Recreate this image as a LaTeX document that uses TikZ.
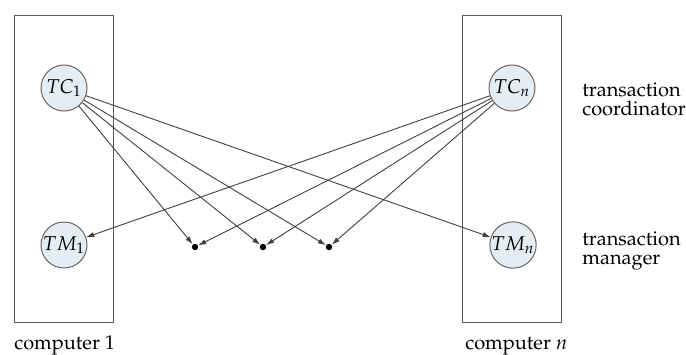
\documentclass[tikz,border=0pt]{standalone}
\usepackage[T1]{fontenc}
\usepackage{mathpazo}
\usetikzlibrary{arrows.meta,positioning}
\usepackage{xcolor}

\definecolor{procfill}{RGB}{228,238,242}

\tikzstyle{arrow} = [
    -{Latex[length=4pt,width=2.6pt]},
    line width=0.45pt,
    draw=black!75
]
\tikzstyle{computer} = [rectangle, draw=black!65, line width=0.5pt, minimum width=49.5pt, minimum height=153.5pt]
\tikzstyle{proc} = [circle, draw=black!60, line width=0.5pt, fill=procfill, minimum size=23pt, inner sep=0pt]
\tikzstyle{msg} = [circle, fill=black, minimum size=3.2pt, inner sep=0pt]

\begin{document}
\begin{tikzpicture}[
    x=0.5pt, y=-0.5pt,
    role/.style={
        align=left,
        anchor=west,
        inner sep=0pt,
        font=\fontsize{10}{9.5}\selectfont
    },
    siteName/.style={
        anchor=base west,
        inner sep=0pt,
        font=\fontsize{10}{12}\selectfont
    }
]
\useasboundingbox (0,0) rectangle (686,354);

% Computers
\node[computer] (site1) at (63.5,168.5) {};
\node[computer] (siten) at (511.5,168.5) {};

% Coordinators and managers
\node[proc] (tc1) at (64,88)  {$TC_1$};
\node[proc] (tcn) at (512,88) {$TC_n$};
\node[proc] (tm1) at (64,245)  {$TM_1$};
\node[proc] (tmn) at (513,245) {$TM_n$};

% Messages in transit
\node[msg] (d1) at (195,247) {};
\node[msg] (d2) at (263,247) {};
\node[msg] (d3) at (329,247) {};

% Labels
\node[role] (coordLabel) at (582,99) {transaction\\coordinator};
\node[role] (mgrLabel)   at (582,251) {transaction\\manager};
\node[siteName] (name1) at (14,349)  {computer 1};
\node[siteName] (namen) at (465,349) {computer $n$};

% Arrows
\draw[arrow] (tc1) -- (d1);
\draw[arrow] (tc1) -- (d2);
\draw[arrow] (tc1) -- (d3);
\draw[arrow] (tc1) -- (tmn);
\draw[arrow] (tcn) -- (tm1);
\draw[arrow] (tcn) -- (d1);
\draw[arrow] (tcn) -- (d2);
\draw[arrow] (tcn) -- (d3);

\end{tikzpicture}
\end{document}
